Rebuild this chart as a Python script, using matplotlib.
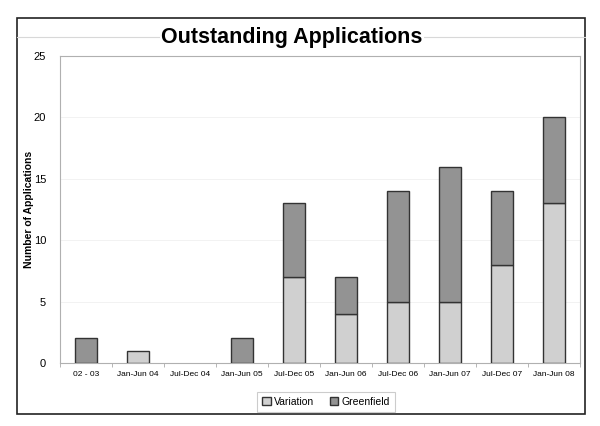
import numpy as np
import matplotlib.pyplot as plt
from matplotlib.patches import Rectangle
from matplotlib.lines import Line2D

plt.rcParams['font.family'] = ['Liberation Sans', 'DejaVu Sans']

periods = ['02 - 03', 'Jan-Jun 04', 'Jul-Dec 04', 'Jan-Jun 05', 'Jul-Dec 05',
           'Jan-Jun 06', 'Jul-Dec 06', 'Jan-Jun 07', 'Jul-Dec 07', 'Jan-Jun 08']
variation = [0, 1, 0, 0, 7, 4, 5, 5, 8, 13]
greenfield = [2, 0, 0, 2, 6, 3, 9, 11, 6, 7]

fig = plt.figure(figsize=(6, 4.26), dpi=100)

# outer chart border
fig.patches.append(Rectangle((17 / 600, 1 - 414 / 426), 568 / 600, 396 / 426,
                             transform=fig.transFigure, fill=False,
                             edgecolor='#222222', linewidth=1.2))
fig.lines.append(Line2D([17 / 600, 585 / 600], [1 - 37 / 426, 1 - 37 / 426],
                        transform=fig.transFigure, color='#d8d8d8', linewidth=0.8))

ax = fig.add_axes([60 / 600, 63 / 426, 520 / 600, 307 / 426])
x = np.arange(len(periods))
w = 0.42
var = np.array(variation)
grn = np.array(greenfield)
mv = var > 0
mg = grn > 0
ax.bar(x[mv], var[mv], w, color='#d0d0d0', edgecolor='#333333', linewidth=1.0,
       label='Variation', zorder=3)
ax.bar(x[mg], grn[mg], w, bottom=var[mg], color='#939393', edgecolor='#333333',
       linewidth=1.0, label='Greenfield', zorder=3)

ax.set_xlim(-0.5, len(periods) - 0.5)
ax.set_ylim(0, 25)
ax.set_yticks([0, 5, 10, 15, 20, 25])
ax.set_xticks(x)
ax.set_xticklabels(periods, fontsize=6)
ax.set_xticks(np.arange(-0.5, len(periods), 1), minor=True)
ax.tick_params(axis='x', which='major', length=0, pad=6)
ax.tick_params(axis='x', which='minor', length=3, color='#aaaaaa')
ax.tick_params(axis='y', labelsize=8, length=0, pad=10)
ax.grid(axis='y', color='#f0f0f0', linewidth=0.6, zorder=0)
for s in ax.spines.values():
    s.set_color('#b0b0b0')
    s.set_linewidth(0.8)
ax.set_ylabel('Number of Applications', fontsize=7.5, fontweight='bold')
ax.yaxis.set_label_coords(-0.05, 0.5)

fig.text(292 / 600, 1 - 37 / 426, 'Outstanding Applications', ha='center',
         va='center', fontsize=15.5, fontweight='bold',
         bbox=dict(facecolor='white', edgecolor='none', pad=1))

leg = fig.legend(loc='center', bbox_to_anchor=(326 / 600, 1 - 402 / 426), ncol=2,
                 fontsize=7.5, handlelength=0.8, handleheight=0.8,
                 handletextpad=0.3, columnspacing=1.5, fancybox=False,
                 edgecolor='#c0c0c0', borderpad=0.5)
leg.get_frame().set_linewidth(0.8)

fig.savefig('out.png', dpi=100)
